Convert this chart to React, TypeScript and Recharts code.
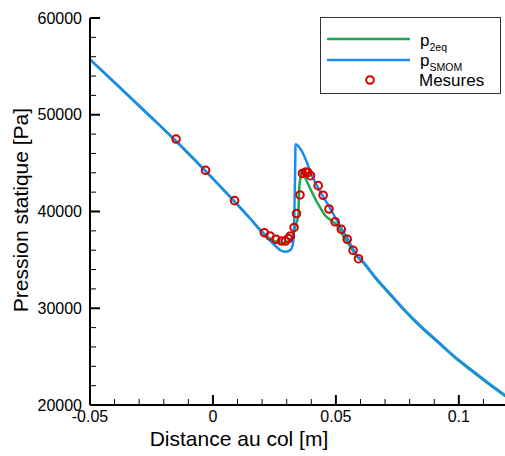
import { ComposedChart, Line, Scatter, XAxis, YAxis, Legend } from 'recharts';

// distance au col [m] / pression statique [Pa]
const smomX = [-0.05, -0.0378, -0.0256, -0.015, -0.003, 0.0088, 0.015, 0.0209, 0.0232, 0.0259, 0.0276, 0.0293, 0.0309, 0.032, 0.0327, 0.0331, 0.0334, 0.0336, 0.0354, 0.0381, 0.0401, 0.0422, 0.0448, 0.0469, 0.0503, 0.0543, 0.0591, 0.0604, 0.0659, 0.0713, 0.078, 0.0848, 0.0916, 0.0984, 0.1052, 0.1119, 0.1187, 0.12];
const smomP = [55730, 52820, 49870, 47290, 44190, 41030, 39330, 37570, 37000, 36330, 35970, 35850, 35920, 36200, 36950, 39640, 43770, 46950, 46530, 45150, 43770, 42740, 41530, 40670, 39120, 37400, 35300, 34990, 33260, 31710, 29820, 28090, 26540, 24990, 23620, 22300, 21030, 20790];

const twoEqX = [-0.05, -0.0378, -0.0256, -0.015, -0.003, 0.0088, 0.015, 0.0209, 0.0232, 0.0256, 0.0285, 0.0309, 0.0325, 0.0337, 0.0347, 0.0351, 0.0356, 0.0361, 0.0381, 0.0408, 0.0435, 0.0455, 0.0476, 0.0503, 0.053, 0.0557, 0.0591, 0.0604, 0.0659, 0.0713, 0.078, 0.0848, 0.0916, 0.0984, 0.1052, 0.1119, 0.1187, 0.12];
const twoEqP = [55700, 52780, 49840, 47260, 44160, 41010, 39300, 37680, 37210, 36900, 36740, 36950, 37470, 38600, 39640, 42430, 43460, 44190, 43150, 41710, 40460, 39640, 39170, 38600, 37470, 36430, 35190, 34900, 33170, 31620, 29730, 28000, 26450, 24900, 23530, 22210, 20950, 20710];

const mesX = [-0.015, -0.003, 0.0088, 0.0209, 0.0232, 0.0256, 0.0279, 0.0295, 0.0307, 0.0315, 0.033, 0.034, 0.0354, 0.0364, 0.0377, 0.0386, 0.0397, 0.0428, 0.0448, 0.0472, 0.0497, 0.0522, 0.0546, 0.057, 0.0592];
const mesP = [47490, 44260, 41120, 37810, 37470, 37130, 36950, 36950, 37210, 37470, 38350, 39790, 41710, 43930, 44080, 44030, 43700, 42670, 41680, 40260, 38940, 38160, 37130, 35990, 35120];

const xTicks = [-0.05, -0.04, -0.03, -0.02, -0.01, 0, 0.01, 0.02, 0.03, 0.04, 0.05, 0.06, 0.07, 0.08, 0.09, 0.1, 0.11, 0.12];
const xMajor = ['-0.05', '0', '0.05', '0.1'];
const yTicks = [20000, 22000, 24000, 26000, 28000, 30000, 32000, 34000, 36000, 38000, 40000, 42000, 44000, 46000, 48000, 50000, 52000, 54000, 56000, 58000, 60000];
const yMajor = [20000, 30000, 40000, 50000, 60000];

const smom = smomX.map((x, i) => ({ x, p: smomP[i] }));
const twoEq = twoEqX.map((x, i) => ({ x, p: twoEqP[i] }));
const mesures = mesX.map((x, i) => ({ x, p: mesP[i] }));

const FONT = '"Liberation Sans", Arial, sans-serif';
const BLUE = '#1a8cf0';
const GREEN = '#1fa64f';
const RED = '#d40000';

const XTick = ({ x, y, payload }: any) => {
  const label = String(payload.value);
  const major = xMajor.includes(label);
  return (
    <g>
      <line x1={x} y1={y} x2={x} y2={y - (major ? 10 : 6)} stroke="#000" strokeWidth={major ? 2 : 1} />
      {major && (
        <text x={x} y={y + 17} textAnchor="middle" fontSize={16} fontFamily={FONT} fill="#000">
          {label}
        </text>
      )}
    </g>
  );
};

const YTick = ({ x, y, payload }: any) => {
  const major = yMajor.includes(payload.value);
  return (
    <g>
      <line x1={x} y1={y} x2={x + (major ? 10 : 6)} y2={y} stroke="#000" strokeWidth={major ? 2 : 1} />
      {major && (
        <text x={x - 8} y={y + 5.5} textAnchor="end" fontSize={16} fontFamily={FONT} fill="#000">
          {payload.value}
        </text>
      )}
    </g>
  );
};

const Ring = ({ cx, cy }: any) => <circle cx={cx} cy={cy} r={3.8} fill="none" stroke={RED} strokeWidth={2} />;

const LegendBox = () => (
  <svg width={181} height={77} style={{ display: 'block' }}>
    <rect x={0.5} y={0.5} width={180} height={76} fill="#fff" stroke="#333" />
    <line x1={7} y1={22} x2={90} y2={22} stroke={GREEN} strokeWidth={2.5} />
    <line x1={7} y1={43} x2={90} y2={43} stroke={BLUE} strokeWidth={2.5} />
    <circle cx={50} cy={63} r={3.8} fill="none" stroke={RED} strokeWidth={2} />
    <text x={100} y={29} fontSize={17} fontFamily={FONT} fill="#000">
      p<tspan dy={5} fontSize={10.5}>2eq</tspan>
    </text>
    <text x={100} y={49} fontSize={17} fontFamily={FONT} fill="#000">
      p<tspan dy={4.5} fontSize={10.5}>SMOM</tspan>
    </text>
    <text x={99} y={68.5} fontSize={17} fontFamily={FONT} fill="#000">
      Mesures
    </text>
  </svg>
);

const XTitle = () => (
  <text x={239} y={446} textAnchor="middle" fontSize={21} fontFamily={FONT} fill="#000">
    Distance au col [m]
  </text>
);

const YTitle = () => (
  <text transform="translate(28,210) rotate(-90)" textAnchor="middle" fontSize={21} fontFamily={FONT} fill="#000">
    Pression statique [Pa]
  </text>
);

export default function App() {
  return (
    <div style={{ position: 'fixed', left: 0, top: 0, width: 505, height: 456, overflow: 'hidden', background: '#fff' }}>
      <ComposedChart width={520} height={456} margin={{ top: 18, right: 12, bottom: 0, left: 0 }}>
        <XAxis
          type="number"
          dataKey="x"
          domain={[-0.05, 0.12]}
          ticks={xTicks}
          interval={0}
          allowDataOverflow
          height={51}
          tickSize={0}
          tickMargin={0}
          tickLine={false}
          axisLine={{ stroke: '#000', strokeWidth: 2 }}
          tick={<XTick />}
          label={<XTitle />}
        />
        <YAxis
          type="number"
          dataKey="p"
          domain={[20000, 60000]}
          ticks={yTicks}
          interval={0}
          allowDataOverflow
          width={90}
          tickSize={0}
          tickMargin={0}
          tickLine={false}
          axisLine={{ stroke: '#000', strokeWidth: 2 }}
          tick={<YTick />}
          label={<YTitle />}
        />
        <Legend
          layout="horizontal"
          verticalAlign="middle"
          align="center"
          content={<LegendBox />}
          wrapperStyle={{ position: 'absolute', left: 320, top: 17, width: 181, height: 77 }}
        />
        <Line data={twoEq} dataKey="p" type="monotone" stroke={GREEN} strokeWidth={2.5} dot={false} isAnimationActive={false} />
        <Line data={smom} dataKey="p" type="monotone" stroke={BLUE} strokeWidth={2.5} dot={false} isAnimationActive={false} />
        <Scatter data={mesures} dataKey="p" shape={<Ring />} isAnimationActive={false} />
      </ComposedChart>
    </div>
  );
}
